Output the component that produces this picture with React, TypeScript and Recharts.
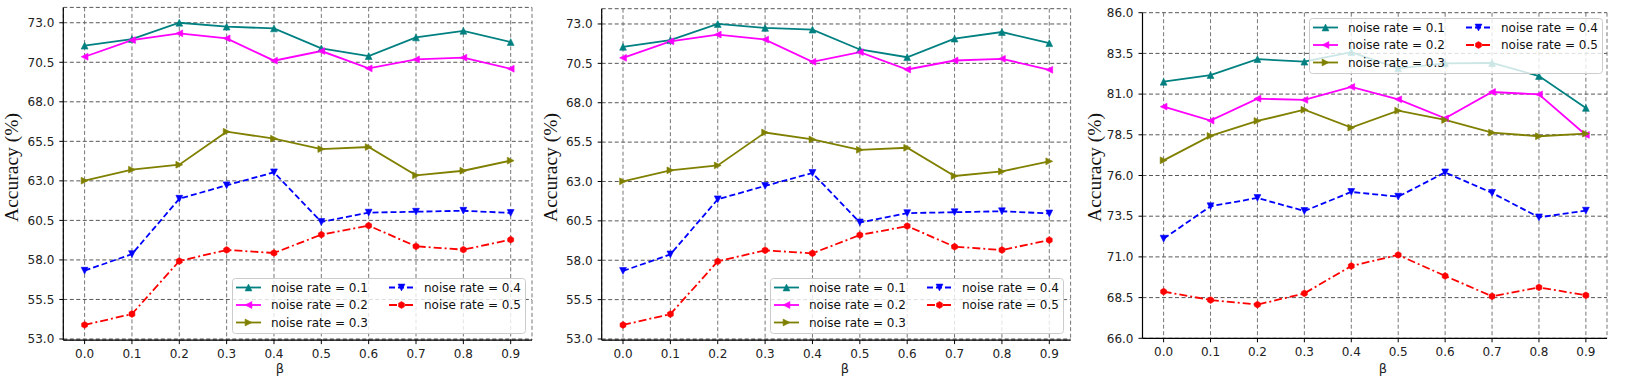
import React from 'react';
import { LineChart, Line, XAxis, YAxis, CartesianGrid, Legend } from 'recharts';

const betas = [0, 0.1, 0.2, 0.3, 0.4, 0.5, 0.6, 0.7, 0.8, 0.9];
const noiseLabels = ['noise rate = 0.1', 'noise rate = 0.2', 'noise rate = 0.3', 'noise rate = 0.4', 'noise rate = 0.5'];

const leftNoise01 = [71.55, 71.97, 73.0, 72.75, 72.64, 71.38, 70.89, 72.07, 72.49, 71.78];
const leftNoise02 = [70.85, 71.9, 72.33, 72.01, 70.6, 71.21, 70.11, 70.68, 70.79, 70.09];
const leftNoise03 = [63.01, 63.71, 64.02, 66.11, 65.67, 65.01, 65.14, 63.35, 63.64, 64.28];
const leftNoise04 = [57.32, 58.37, 61.87, 62.72, 63.54, 60.4, 60.99, 61.05, 61.11, 60.97];
const leftNoise05 = [53.89, 54.58, 57.93, 58.63, 58.44, 59.6, 60.17, 58.86, 58.65, 59.28];

const rightNoise01 = [81.76, 82.17, 83.15, 82.99, 83.58, 82.58, 82.89, 82.91, 82.11, 80.15];
const rightNoise02 = [80.23, 79.37, 80.72, 80.64, 81.44, 80.68, 79.51, 81.13, 80.98, 78.49];
const rightNoise03 = [76.93, 78.43, 79.35, 80.04, 78.94, 79.98, 79.41, 78.63, 78.41, 78.57];
const rightNoise04 = [72.12, 74.11, 74.62, 73.82, 74.99, 74.7, 76.19, 74.93, 73.43, 73.84];
const rightNoise05 = [68.87, 68.35, 68.07, 68.76, 70.44, 71.12, 69.83, 68.58, 69.13, 68.64];

const leftTicks = [53, 55.5, 58, 60.5, 63, 65.5, 68, 70.5, 73];
const rightTicks = [66, 68.5, 71, 73.5, 76, 78.5, 81, 83.5, 86];

const buildRows = (series: number[][]) =>
  betas.map((b, i) => ({ beta: b, n1: series[0][i], n2: series[1][i], n3: series[2][i], n4: series[3][i], n5: series[4][i] }));

const leftRows = buildRows([leftNoise01, leftNoise02, leftNoise03, leftNoise04, leftNoise05]);
const rightRows = buildRows([rightNoise01, rightNoise02, rightNoise03, rightNoise04, rightNoise05]);

const seriesStyle = [
  { key: 'n1', color: '#008080', dash: undefined as string | undefined, marker: 'up' },
  { key: 'n2', color: '#ff00ff', dash: undefined, marker: 'left' },
  { key: 'n3', color: '#808000', dash: undefined, marker: 'right' },
  { key: 'n4', color: '#0000ff', dash: '6 3', marker: 'down' },
  { key: 'n5', color: '#ff0000', dash: '8 3 2 3', marker: 'hex' },
];

const FONT = '"DejaVu Sans", sans-serif';

function markerShape(shape: string, cx: number, cy: number, color: string, s = 3.4, key?: string | number) {
  let pts = '';
  if (shape === 'up') pts = `${cx},${cy - s} ${cx - s},${cy + s} ${cx + s},${cy + s}`;
  else if (shape === 'down') pts = `${cx},${cy + s} ${cx - s},${cy - s} ${cx + s},${cy - s}`;
  else if (shape === 'left') pts = `${cx - s},${cy} ${cx + s},${cy - s} ${cx + s},${cy + s}`;
  else if (shape === 'right') pts = `${cx + s},${cy} ${cx - s},${cy - s} ${cx - s},${cy + s}`;
  else {
    const arr: string[] = [];
    for (let k = 0; k < 6; k++) {
      const a = (Math.PI / 3) * k + Math.PI / 2;
      arr.push(`${cx + s * Math.cos(a)},${cy + s * Math.sin(a)}`);
    }
    pts = arr.join(' ');
  }
  return <polygon key={key} points={pts} fill={color} stroke={color} strokeWidth={0.6} />;
}

const LEG_W = 294;
const LEG_H = 56;

function LegendBox() {
  const items = [
    { i: 0, col: 0, row: 0 },
    { i: 1, col: 0, row: 1 },
    { i: 2, col: 0, row: 2 },
    { i: 3, col: 1, row: 0 },
    { i: 4, col: 1, row: 1 },
  ];
  return (
    <svg width={LEG_W} height={LEG_H} style={{ display: 'block' }}>
      <rect x={0.5} y={0.5} width={LEG_W - 1} height={LEG_H - 1} rx={3} ry={3} fill="rgba(255,255,255,0.8)" stroke="#cccccc" strokeWidth={1} />
      {items.map((r) => {
        const st = seriesStyle[r.i];
        const x0 = r.col === 0 ? 4 : 157;
        const cy = 9.5 + r.row * 17.5;
        return (
          <g key={r.i}>
            <line x1={x0} y1={cy} x2={x0 + 25} y2={cy} stroke={st.color} strokeWidth={1.8} strokeDasharray={st.dash} />
            {markerShape(st.marker, x0 + 12.5, cy, st.color, 3.4)}
            <text x={x0 + 35} y={cy} dominantBaseline="central" fontSize={12} fontFamily={FONT} fill="#111">
              {noiseLabels[r.i]}
            </text>
          </g>
        );
      })}
    </svg>
  );
}

type PanelProps = {
  left: number;
  width: number;
  rows: any[];
  domain: [number, number];
  ticks: number[];
  plotTop: number;
  plotBottom: number;
  yAxisWidth: number;
  marginRight: number;
  yLabelX: number;
  betaX: number;
  legendLeft: number;
  legendTop: number;
};

function Panel(p: PanelProps) {
  const H = 376;
  return (
    <div style={{ position: 'absolute', left: p.left, top: 0, width: p.width, height: H }}>
      <LineChart
        width={p.width}
        height={H}
        data={p.rows}
        margin={{ top: p.plotTop, right: p.marginRight, bottom: 0, left: 0 }}
      >
        <CartesianGrid horizontal={true} vertical={false} stroke="#444" strokeDasharray="4 2.5" strokeWidth={0.9} />
        <CartesianGrid horizontal={false} vertical={true} stroke="#666" strokeDasharray="4 2.5" strokeWidth={0.9} />
        <XAxis
          type="number"
          dataKey="beta"
          domain={[-0.045, 0.945]}
          ticks={betas}
          allowDataOverflow
          height={H - p.plotBottom}
          tickFormatter={(v: number) => v.toFixed(1)}
          tick={{ fill: '#222', fontSize: 12, fontFamily: FONT }}
          tickSize={4}
          tickMargin={5}
          axisLine={{ stroke: '#000', strokeWidth: 1.2 }}
          tickLine={{ stroke: '#000', strokeWidth: 1 }}
          label={() => (
            <text x={p.betaX} y={373} textAnchor="middle" fontSize={13} fontFamily={FONT} fill="#222">
              β
            </text>
          )}
        />
        <YAxis
          type="number"
          domain={p.domain}
          ticks={p.ticks}
          allowDataOverflow
          width={p.yAxisWidth}
          tickFormatter={(v: number) => v.toFixed(1)}
          tick={{ fill: '#222', fontSize: 12, fontFamily: FONT }}
          tickSize={4}
          tickMargin={5}
          axisLine={{ stroke: '#000', strokeWidth: 1.2 }}
          tickLine={{ stroke: '#000', strokeWidth: 1 }}
          label={() => (
            <text
              x={p.yLabelX}
              y={167.5}
              transform={`rotate(-90 ${p.yLabelX} 167.5)`}
              textAnchor="middle"
              dominantBaseline="central"
              fontSize={19.5}
              fontFamily='"Liberation Serif", "Times New Roman", serif'
              fill="#111"
            >
              Accuracy (%)
            </text>
          )}
        />
        {seriesStyle.map((st, si) => (
          <Line
            key={st.key}
            type="linear"
            dataKey={st.key}
            name={noiseLabels[si]}
            stroke={st.color}
            strokeWidth={1.8}
            strokeDasharray={st.dash}
            isAnimationActive={false}
            dot={(props: any) => markerShape(st.marker, props.cx, props.cy, st.color, 3.4, `${st.key}-${props.index}`)}
            activeDot={false}
          />
        ))}
        <Legend
          layout="vertical"
          align="center"
          verticalAlign="middle"
          wrapperStyle={{ left: p.legendLeft, top: p.legendTop, width: LEG_W, height: LEG_H, right: 'auto', bottom: 'auto', margin: 0 }}
          content={() => <LegendBox />}
        />
      </LineChart>
    </div>
  );
}

export default function App() {
  return (
    <div style={{ position: 'absolute', left: 0, top: 0, width: 1628, height: 376, background: '#fff', overflow: 'hidden' }}>
      <Panel
        left={0}
        width={540}
        rows={leftRows}
        domain={[52.93, 73.97]}
        ticks={leftTicks}
        plotTop={7.4}
        plotBottom={340.1}
        yAxisWidth={63.3}
        marginRight={8}
        yLabelX={11}
        betaX={280}
        legendLeft={231.7}
        legendTop={277.5}
      />
      <Panel
        left={540}
        width={540}
        rows={leftRows}
        domain={[52.93, 73.97]}
        ticks={leftTicks}
        plotTop={8.7}
        plotBottom={340.1}
        yAxisWidth={61.7}
        marginRight={9.4}
        yLabelX={10.5}
        betaX={305}
        legendLeft={229.6}
        legendTop={278}
      />
      <Panel
        left={1080}
        width={548}
        rows={rightRows}
        domain={[66, 86]}
        ticks={rightTicks}
        plotTop={12.7}
        plotBottom={338.3}
        yAxisWidth={62.5}
        marginRight={21}
        yLabelX={14}
        betaX={303}
        legendLeft={229.3}
        legendTop={18.3}
      />
    </div>
  );
}
